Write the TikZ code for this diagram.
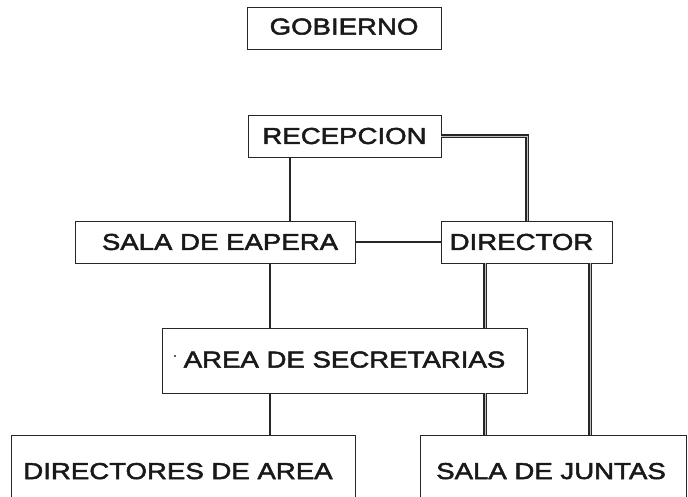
\documentclass[tikz,border=0pt]{standalone}
\usepackage{fontspec}
\setmainfont{Liberation Sans}[FakeStretch=1.2, FakeBold=2.2]
\begin{document}
\begin{tikzpicture}[x=1pt,y=-1pt,
  box/.style={draw=black!85, line width=0.8pt, rectangle, inner sep=0pt, outer sep=0pt,
    minimum height=42pt, font=\fontsize{23}{26}\selectfont, text=black!90},
  link/.style={draw=black!85, line width=1.5pt},
  dlink/.style={preaction={draw=black!85, line width=3.2pt}, draw=black!25, line width=0.9pt}]
\clip (0,0) rectangle (688,497);
\fill[white] (0,0) rectangle (688,497);
% boxes
\node[box, minimum width=194pt] (gob) at (344,28) {\raisebox{3pt}{GOBIERNO}};
\node[box, minimum width=193pt] (rec) at (344.5,136) {RECEPCION};
\node[box, minimum width=280pt] (sala) at (215,242) {\hspace*{10pt}SALA DE EAPERA};
\node[box, minimum width=171pt] (dir) at (526.5,242) {DIRECTOR\hspace*{10pt}};
\node[box, minimum width=365pt, minimum height=65pt] (area) at (344.5,360.5) {\raisebox{2pt}{AREA DE SECRETARIAS}};
\node[box, minimum width=344pt, minimum height=100pt] (dirs) at (183,485) {\raisebox{28pt}{DIRECTORES DE AREA\hspace*{10pt}}};
\node[box, minimum width=266pt, minimum height=100pt] (jun) at (553,485) {\raisebox{28pt}{SALA DE JUNTAS\hspace*{4pt}}};
\fill[black!85] (175,356) circle (1.2pt);
% guides
\coordinate (gA) at (290,0);
\coordinate (gB) at (527,0);
\coordinate (gC) at (270,0);
\coordinate (gD) at (485,0);
\coordinate (gE) at (590,0);
% connectors
\draw[link] (gA |- rec.south) -- (gA |- sala.north);
\draw[dlink] (rec.east) -- (gB |- rec.east) -- (gB |- dir.north);
\draw[link] (sala.east) -- (dir.west);
\draw[link] (gC |- sala.south) -- (gC |- area.north);
\draw[dlink] (gD |- dir.south) -- (gD |- area.north);
\draw[link] (gC |- area.south) -- (gC |- dirs.north);
\draw[dlink] (gD |- area.south) -- (gD |- jun.north);
\draw[dlink] (gE |- dir.south) -- (gE |- jun.north);
\end{tikzpicture}
\end{document}
